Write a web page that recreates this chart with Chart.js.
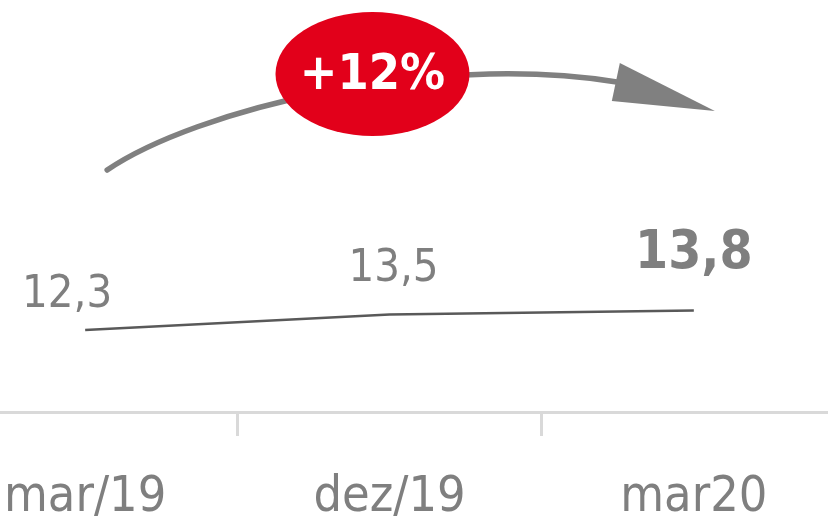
<!DOCTYPE html>
<html>
<head>
<meta charset="utf-8">
<script src="https://cdn.jsdelivr.net/npm/chart.js@4.4.1/dist/chart.umd.min.js"></script>
<style>
  html, body { margin: 0; padding: 0; background: #fff; overflow: hidden; }
  body { width: 828px; height: 518px; position: relative; }
  #wrap { position: absolute; left: -67px; top: 0; width: 913px; height: 560px; }
</style>
</head>
<body>
<div id="wrap"><canvas id="growth"></canvas></div>
<script>
const periods = ['mar/19', 'dez/19', 'mar20'];
const values = [12.3, 13.5, 13.8];
const growthText = '+12%';

const FONT = "'DejaVu Sans Condensed', 'DejaVu Sans', sans-serif";
const grey = '#7f7f7f';

// value labels above each point, last one bold
const valueLabels = {
    id: 'valueLabels',
    afterDatasetsDraw(chart) {
        const ctx = chart.ctx;
        const pts = chart.getDatasetMeta(0).data;
        const shifts = [[-18, -35], [4, -45], [0, -56]];
        ctx.save();
        ctx.textAlign = 'center';
        ctx.textBaseline = 'middle';
        ctx.fillStyle = grey;
        pts.forEach((p, i) => {
            const last = i === pts.length - 1;
            ctx.font = (last ? 'bold 53px ' : '45px ') + FONT;
            ctx.fillText(values[i].toFixed(1).replace('.', ','), p.x + shifts[i][0], p.y + shifts[i][1]);
        });
        ctx.restore();
    }
};

// curved arrow with the red growth badge
const growthBadge = {
    id: 'growthBadge',
    afterDraw(chart) {
        const ctx = chart.ctx;
        const pts = chart.getDatasetMeta(0).data;
        const a = pts[0], b = pts[1], c = pts[pts.length - 1];
        ctx.save();
        ctx.strokeStyle = '#808080';
        ctx.fillStyle = '#808080';
        ctx.lineWidth = 5.5;
        ctx.lineCap = 'round';
        ctx.beginPath();
        ctx.moveTo(a.x + 22, 170);
        ctx.bezierCurveTo(a.x + 110, 110, b.x + 40, 52, c.x - 77, 82);
        ctx.stroke();
        // arrow head
        ctx.beginPath();
        ctx.moveTo(c.x - 74, 63);
        ctx.lineTo(c.x + 21, 111);
        ctx.lineTo(c.x - 82, 101);
        ctx.closePath();
        ctx.fill();

        const cx = b.x - 17, cy = 74;
        ctx.fillStyle = '#e2001a';
        ctx.beginPath();
        ctx.ellipse(cx, cy, 97, 62, 0, 0, Math.PI * 2);
        ctx.fill();
        ctx.fillStyle = '#fff';
        ctx.font = 'bold 50px ' + FONT;
        ctx.textAlign = 'center';
        ctx.textBaseline = 'middle';
        ctx.fillText(growthText, cx, cy + 2);
        ctx.restore();
    }
};

new Chart(document.getElementById('growth').getContext('2d'), {
    type: 'line',
    data: {
        labels: periods,
        datasets: [{
            data: values,
            borderColor: '#595959',
            borderWidth: 2.5,
            pointRadius: 0,
            tension: 0
        }]
    },
    options: {
        responsive: true,
        maintainAspectRatio: false,
        animation: false,
        layout: { padding: 0 },
        plugins: {
            legend: { display: false },
            tooltip: { enabled: false }
        },
        scales: {
            x: {
                offset: true,
                border: { color: '#d9d9d9', width: 3 },
                grid: {
                    offset: true,
                    drawOnChartArea: false,
                    tickLength: 24,
                    color: '#d9d9d9',
                    lineWidth: 3
                },
                ticks: {
                    color: grey,
                    font: { family: FONT, size: 50 },
                    padding: 32,
                    maxRotation: 0,
                    autoSkip: false
                }
            },
            y: {
                display: false,
                min: 6,
                max: 37.7
            }
        }
    },
    plugins: [valueLabels, growthBadge]
});
</script>
</body>
</html>
